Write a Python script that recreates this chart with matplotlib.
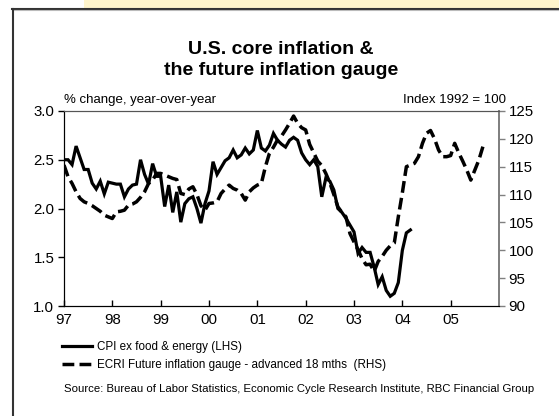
import numpy as np
import matplotlib
matplotlib.use("Agg")
import matplotlib.pyplot as plt
import matplotlib.transforms as mtransforms
from matplotlib.lines import Line2D
from matplotlib.patches import Rectangle

plt.rcParams['font.family'] = ['Liberation Sans', 'DejaVu Sans']

# monthly data, Jan 1997 onwards
cpi = [2.50, 2.50, 2.45, 2.64, 2.52, 2.40, 2.40, 2.26, 2.20, 2.28, 2.15, 2.27,   # 1997
       2.26, 2.25, 2.25, 2.12, 2.20, 2.24, 2.25, 2.50, 2.35, 2.25, 2.46, 2.33,   # 1998
       2.33, 2.02, 2.24, 1.96, 2.17, 1.86, 2.05, 2.10, 2.12, 2.00, 1.85, 2.05,   # 1999
       2.18, 2.48, 2.35, 2.42, 2.49, 2.52, 2.60, 2.52, 2.55, 2.62, 2.56, 2.60,   # 2000
       2.80, 2.62, 2.59, 2.65, 2.77, 2.70, 2.66, 2.63, 2.70, 2.73, 2.70, 2.57,   # 2001
       2.50, 2.45, 2.50, 2.43, 2.12, 2.31, 2.28, 2.19, 2.00, 1.96, 1.90, 1.83,   # 2002
       1.76, 1.54, 1.60, 1.55, 1.55, 1.40, 1.22, 1.30, 1.16, 1.10, 1.13, 1.24,   # 2003
       1.57, 1.75, 1.78]                                                         # 2004
ecri = [115.3, 113.2, 112.0, 110.5, 109.3, 108.7, 108.4, 108.0, 107.5, 107.0, 106.3, 106.0,  # 1997
        105.7, 106.9, 107.0, 107.2, 108.1, 108.3, 108.7, 109.5, 110.5, 112.0, 112.6, 113.8,  # 1998
        113.8, 113.5, 113.2, 112.9, 112.7, 110.2, 110.0, 111.0, 111.4, 110.0, 108.0, 107.2,  # 1999
        108.4, 108.5, 108.7, 110.2, 111.0, 111.7, 111.1, 110.8, 110.2, 109.0, 110.5, 111.2,  # 2000
        111.7, 112.0, 115.0, 117.4, 118.5, 119.8, 120.5, 121.6, 122.8, 124.1, 122.8, 122.0,  # 2001
        121.6, 119.0, 117.5, 116.0, 115.2, 113.8, 112.1, 110.0, 107.8, 106.8, 106.0, 103.0,  # 2002
        101.5, 100.1, 98.5, 97.4, 97.5, 96.2, 98.0, 98.9, 100.0, 100.8, 101.3, 106.0,       # 2003
        110.3, 115.0, 115.3, 115.6, 116.8, 119.2, 121.0, 121.5, 120.0, 118.0, 116.8, 116.8,  # 2004
        117.0, 119.2, 117.5, 116.0, 114.4, 112.6, 114.4, 116.2, 118.6]                       # 2005
years = list(range(1997, 2006))
year_labels = ['97', '98', '99', '00', '01', '02', '03', '04', '05']

t_cpi = 1997 + np.arange(len(cpi)) / 12
t_ecri = 1997 + np.arange(len(ecri)) / 12

W, H = 559, 416
fig = plt.figure(figsize=(W / 100, H / 100), dpi=100)
fig.patch.set_facecolor('white')

# outer frame and yellow strip
fig.add_artist(Rectangle((84 / W, 1 - 8 / H), 1, 8 / H, transform=fig.transFigure,
                         facecolor='#fff5cc', edgecolor='none'))
fig.add_artist(Line2D([12 / W, 1], [1 - 8.5 / H] * 2, transform=fig.transFigure, color='#333333', lw=1.5))
fig.add_artist(Line2D([12 / W, 1], [1 - 10 / H] * 2, transform=fig.transFigure, color='#bbbbbb', lw=0.8))
fig.add_artist(Line2D([12.5 / W] * 2, [0, 1 - 8.5 / H], transform=fig.transFigure, color='#333333', lw=1.5))

ax = fig.add_axes([64 / W, 1 - 306 / H, (499 - 64) / W, (306 - 111) / H])
ax2 = ax.twinx()

l1, = ax.plot(t_cpi, cpi, color='black', lw=2.3, solid_joinstyle='miter')
l2, = ax2.plot(t_ecri, ecri, color='black', lw=2.5, linestyle=(0, (3.4, 1.5)))

ax.set_xlim(1997, 2006)
ax.set_ylim(1.0, 3.0)
ax2.set_ylim(90, 125)
ax.set_yticks([1.0, 1.5, 2.0, 2.5, 3.0])
ax.set_yticklabels(['1.0', '1.5', '2.0', '2.5', '3.0'])
ax2.set_yticks(range(90, 126, 5))
ax.set_xticks(years)
ax.set_xticklabels(year_labels)
off = mtransforms.ScaledTranslation(7 / 100, 0, fig.dpi_scale_trans)
for lab in ax.get_xticklabels():
    lab.set_transform(lab.get_transform() + off)

ax.tick_params(axis='x', direction='in', length=4, width=1, labelsize=10.8, pad=5)
ax.tick_params(axis='y', direction='out', length=4, width=1, labelsize=10.8, pad=3)
ax2.tick_params(axis='y', direction='out', length=4, width=1, labelsize=10.8, pad=3, color='#808080')
for a in (ax, ax2):
    a.spines['top'].set_color('#555555')
    a.spines['right'].set_color('#808080')
    a.spines['right'].set_linewidth(1.3)

fig.text(281 / W, 1 - 60 / H, 'U.S. core inflation &\nthe future inflation gauge',
         ha='center', va='center', fontsize=14, fontweight='bold', linespacing=1.3)
fig.text(64 / W, 1 - 100 / H, '% change, year-over-year', ha='left', va='center', fontsize=9.5)
fig.text(506 / W, 1 - 100 / H, 'Index 1992 = 100', ha='right', va='center', fontsize=9.5)

fig.legend([l1, l2], ['CPI ex food & energy (LHS)',
                      'ECRI Future inflation gauge - advanced 18 mths  (RHS)'],
           loc='upper left', bbox_to_anchor=(62 / W, 1 - 341 / H), frameon=False,
           fontsize=8.4, handlelength=2.6, handletextpad=0.4, labelspacing=0.55,
           borderaxespad=0, borderpad=0)
fig.text(64 / W, 1 - 389 / H,
         'Source: Bureau of Labor Statistics, Economic Cycle Research Institute, RBC Financial Group',
         ha='left', va='center', fontsize=8.2)

fig.savefig('out.png', dpi=100)
